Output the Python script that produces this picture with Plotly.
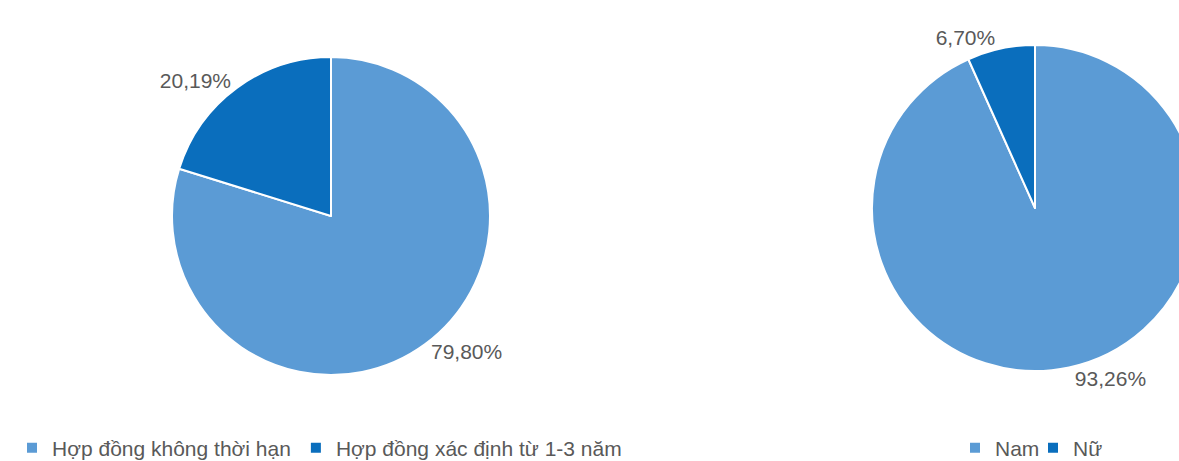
import plotly.graph_objects as go

# ---- data ----
contract_labels = ["Hợp đồng không thời hạn", "Hợp đồng xác định từ 1-3 năm"]
contract_values = [79.80, 20.19]
gender_labels = ["Nam", "Nữ"]
gender_values = [93.26, 6.70]

LIGHT = "#5B9BD5"
DARK = "#0A6EBD"
TEXT = "#595959"
W, H = 1200, 461


def fmt(v):
    return f"{v:.2f}".replace(".", ",") + "%"


def dom(cx, cy, r):
    return dict(x=[(cx - r) / W, (cx + r) / W], y=[1 - (cy + r) / H, 1 - (cy - r) / H])


fig = go.Figure()
fig.add_trace(go.Pie(
    labels=contract_labels, values=contract_values,
    text=[fmt(v) for v in contract_values], textinfo="text",
    textposition="outside", sort=False, direction="clockwise", rotation=0,
    marker=dict(colors=[LIGHT, DARK], line=dict(color="white", width=2)),
    domain=dom(331, 216, 159), legend="legend",
    outsidetextfont=dict(color=TEXT, size=21), showlegend=True,
    hoverinfo="label+text",
))
fig.add_trace(go.Pie(
    labels=gender_labels, values=gender_values,
    text=[fmt(v) for v in gender_values], textinfo="text",
    textposition="outside", sort=False, direction="clockwise", rotation=0,
    marker=dict(colors=[LIGHT, DARK], line=dict(color="white", width=2)),
    domain=dom(1035, 208, 163), legend="legend2",
    outsidetextfont=dict(color=TEXT, size=21), showlegend=True,
    hoverinfo="label+text",
))

legend_font = dict(family="Liberation Sans, Arial, sans-serif", size=21, color=TEXT)
fig.update_layout(
    width=W, height=H,
    margin=dict(l=0, r=0, t=0, b=0, autoexpand=False),
    paper_bgcolor="white", plot_bgcolor="white",
    font=dict(family="Liberation Sans, Arial, sans-serif", size=21, color=TEXT),
    legend=dict(orientation="h", x=12 / W, xanchor="left", y=(H - 448) / H, yanchor="middle",
                font=legend_font, itemwidth=30, bgcolor="rgba(0,0,0,0)"),
    legend2=dict(orientation="h", x=955 / W, xanchor="left", y=(H - 448) / H, yanchor="middle",
                 font=legend_font, itemwidth=30, entrywidth=33, bgcolor="rgba(0,0,0,0)"),
)

fig.write_html("out.html", post_script="document.body.style.overflow='hidden';document.documentElement.style.overflow='hidden';")
